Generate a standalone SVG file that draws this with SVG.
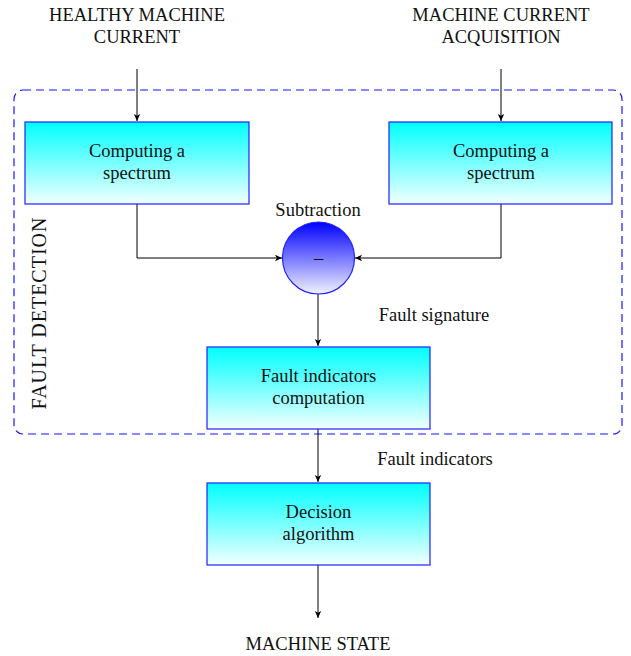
<svg xmlns="http://www.w3.org/2000/svg" width="631" height="656" viewBox="0 0 631 656">
<defs>
<linearGradient id="gBox" x1="0" y1="0" x2="0" y2="1">
<stop offset="0" stop-color="#00ffff"/>
<stop offset="1" stop-color="#f2ffff"/>
</linearGradient>
<linearGradient id="gCirc" x1="0" y1="0" x2="0" y2="1">
<stop offset="0" stop-color="#0000ff"/>
<stop offset="1" stop-color="#f2f2ff"/>
</linearGradient>
<marker id="arr" markerWidth="8" markerHeight="8" refX="7" refY="4" orient="auto" markerUnits="userSpaceOnUse">
<path d="M0,0.8 L7,4 L0,7.2 L1.8,4 Z" fill="#000"/>
</marker>
</defs>
<style>
text{font-family:"Liberation Serif","Times New Roman",serif;font-size:18.5px;fill:#111;text-anchor:middle}
.box{fill:url(#gBox);stroke:#2020ff;stroke-width:1.2}
.conn{fill:none;stroke:#000;stroke-width:1}
</style>
<rect x="0" y="0" width="631" height="656" fill="#fff"/>
<g id="fault-detection">
<rect x="14" y="90" width="608" height="344" rx="9" ry="9" fill="none" stroke="#1515ff" stroke-width="1.2" stroke-dasharray="8,5"/>
<text transform="translate(46,313) rotate(-90)" style="font-size:20px;letter-spacing:1px">FAULT DETECTION</text>
</g>
<g id="connectors">
<path class="conn" d="M137,69 V121" marker-end="url(#arr)"/>
<path class="conn" d="M501,69 V121" marker-end="url(#arr)"/>
<path class="conn" d="M137,204 V258 H282" marker-end="url(#arr)"/>
<path class="conn" d="M501,204 V258 H355" marker-end="url(#arr)"/>
<path class="conn" d="M318,294 V346" marker-end="url(#arr)"/>
<path class="conn" d="M318,429 V482" marker-end="url(#arr)"/>
<path class="conn" d="M318,565 V618" marker-end="url(#arr)"/>
</g>
<g id="input-healthy">
<text x="137" y="21">HEALTHY MACHINE</text>
<text x="137" y="43">CURRENT</text>
</g>
<g id="input-acquisition">
<text x="501" y="21">MACHINE CURRENT</text>
<text x="501" y="43">ACQUISITION</text>
</g>
<g id="spectrum-left">
<rect class="box" x="25" y="122" width="224" height="82"/>
<text x="137" y="157">Computing a</text>
<text x="137" y="179">spectrum</text>
</g>
<g id="spectrum-right">
<rect class="box" x="389" y="122" width="223" height="82"/>
<text x="501" y="157">Computing a</text>
<text x="501" y="179">spectrum</text>
</g>
<g id="subtraction">
<text x="318" y="216">Subtraction</text>
<circle cx="318.5" cy="258" r="36" fill="url(#gCirc)" stroke="#2020ff" stroke-width="1.2"/>
<text x="318.5" y="264">–</text>
</g>
<g id="label-fault-signature">
<text x="434" y="321">Fault signature</text>
</g>
<g id="fault-indicators-computation">
<rect class="box" x="207" y="347" width="223" height="82"/>
<text x="318.5" y="382">Fault indicators</text>
<text x="318.5" y="404">computation</text>
</g>
<g id="label-fault-indicators">
<text x="435" y="465">Fault indicators</text>
</g>
<g id="decision">
<rect class="box" x="207" y="483" width="223" height="82"/>
<text x="318.5" y="518">Decision</text>
<text x="318.5" y="540">algorithm</text>
</g>
<g id="output">
<text x="318" y="650">MACHINE STATE</text>
</g>
</svg>
